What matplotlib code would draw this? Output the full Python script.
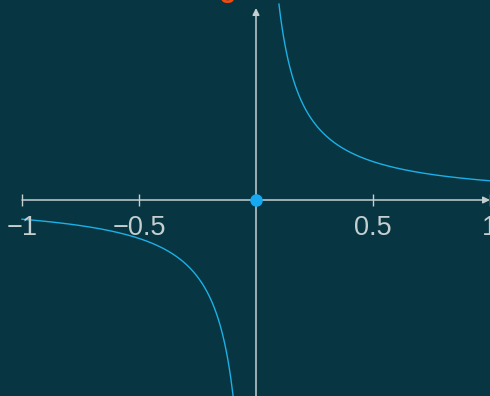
import numpy as np
import matplotlib.pyplot as plt

# y = k / x on [-1, 1]
k = 0.1
x_left = np.linspace(-1.0, -0.098, 400)
x_right = np.linspace(0.098, 1.0, 400)
tick_vals = [-1, -0.5, 0.5, 1]
tick_text = ["\u22121", "\u22120.5", "0.5", "1"]
origin = (0.0, 0.0)
title = "Inverse scaling"

bg = "#073642"
axis_col = "#c5cfd0"
curve_col = "#1bb0e6"

fig = plt.figure(figsize=(4.9, 3.96), dpi=100, facecolor=bg)
ax = fig.add_axes([0, 0, 1, 1], facecolor=bg)
ax.set_xlim(-1.094, 1.0)
ax.set_ylim(-1.0208, 1.0417)
ax.axis("off")

# axes with arrowheads
ax.annotate("", xy=(1.0, 0), xytext=(-1.0, 0),
            arrowprops=dict(arrowstyle="-|>", color=axis_col, lw=1.1,
                            mutation_scale=10, shrinkA=0, shrinkB=0))
ax.annotate("", xy=(0, 1.0), xytext=(0, -1.03),
            arrowprops=dict(arrowstyle="-|>", color=axis_col, lw=1.1,
                            mutation_scale=10, shrinkA=0, shrinkB=0))

# ticks and labels on the x axis
ax.plot(tick_vals, [0] * len(tick_vals), ls="none", marker="|",
        markersize=9, color=axis_col, markeredgewidth=1)
for v, s in zip(tick_vals, tick_text):
    ax.text(v, -0.13, s, ha="center", va="center_baseline", color=axis_col,
            fontsize=19.5, family="Liberation Sans")

# the two branches
ax.plot(x_left, k / x_left, color=curve_col, lw=1.0)
ax.plot(x_right, k / x_right, color=curve_col, lw=1.0)
ax.plot(*origin, "o", color="#17a9ef", markersize=8, zorder=5)

fig.text(0.482, 1.007, title, ha="right", va="baseline", color="#f24b12",
         fontsize=20, fontweight="bold", family="Liberation Sans")

fig.savefig("out.png", dpi=100, facecolor=bg)
